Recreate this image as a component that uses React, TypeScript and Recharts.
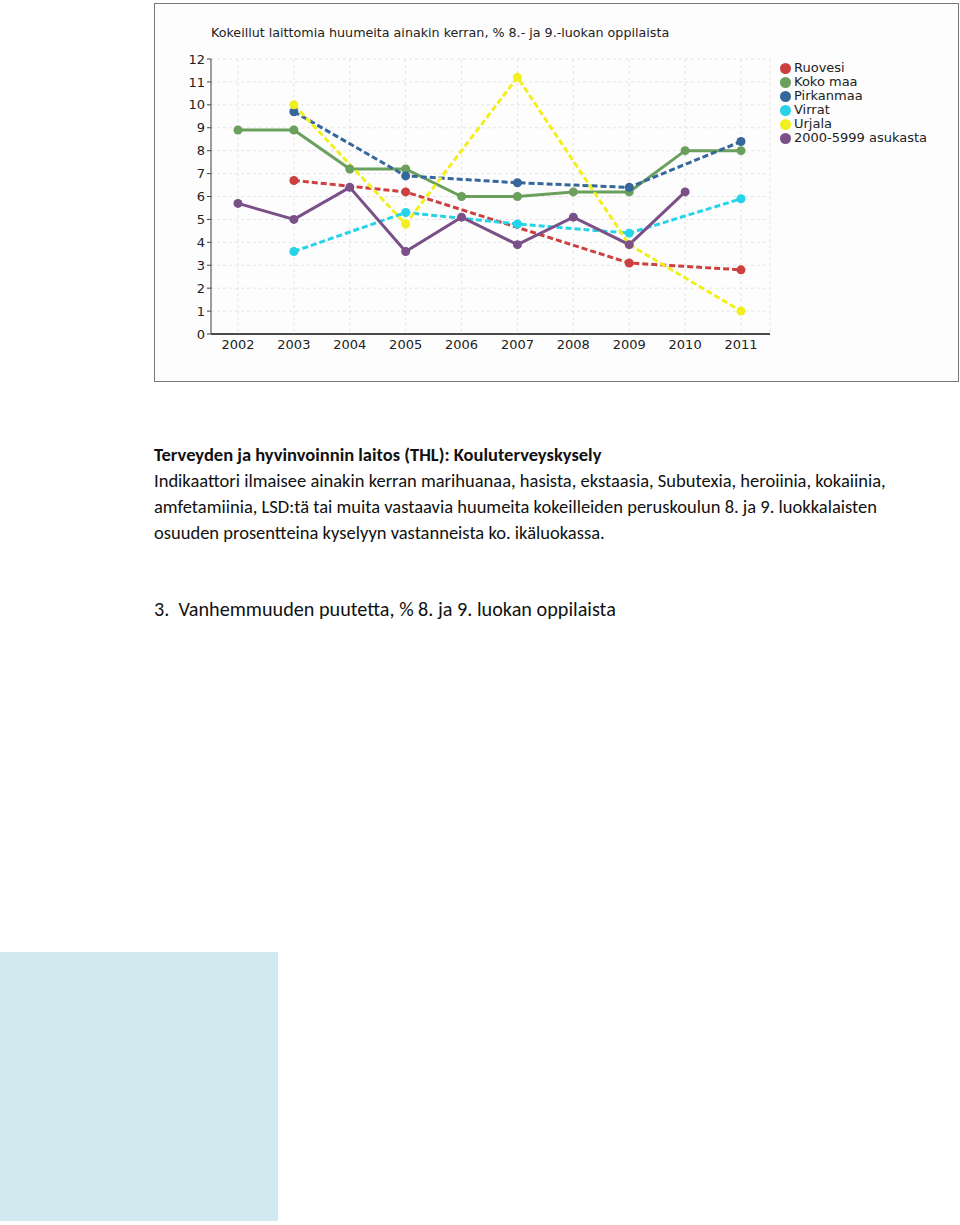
import React from 'react'
import {
  LineChart, Line, XAxis, YAxis, CartesianGrid,
} from 'recharts'

const YEARS = ['2002', '2003', '2004', '2005', '2006', '2007', '2008', '2009', '2010', '2011']
const RUOVESI = [null, 6.7, null, 6.2, null, null, null, 3.1, null, 2.8]
const KOKO_MAA = [8.9, 8.9, 7.2, 7.2, 6.0, 6.0, 6.2, 6.2, 8.0, 8.0]
const PIRKANMAA = [null, 9.7, null, 6.9, null, 6.6, null, 6.4, null, 8.4]
const VIRRAT = [null, 3.6, null, 5.3, null, 4.8, null, 4.4, null, 5.9]
const URJALA = [null, 10.0, null, 4.8, null, 11.2, null, 3.9, null, 1.0]
const ASUKASTA = [5.7, 5.0, 6.4, 3.6, 5.1, 3.9, 5.1, 3.9, 6.2, null]
const Y_TICKS = [0, 1, 2, 3, 4, 5, 6, 7, 8, 9, 10, 11, 12]

const SERIES = [
  { key: 'ruovesi', name: 'Ruovesi', values: RUOVESI, color: '#cc4040', dashed: true },
  { key: 'koko', name: 'Koko maa', values: KOKO_MAA, color: '#6a9f5c', dashed: false },
  { key: 'pirkanmaa', name: 'Pirkanmaa', values: PIRKANMAA, color: '#35679b', dashed: true },
  { key: 'virrat', name: 'Virrat', values: VIRRAT, color: '#27d3e8', dashed: true },
  { key: 'urjala', name: 'Urjala', values: URJALA, color: '#f1ef1e', dashed: true },
  { key: 'asukasta', name: '2000-5999 asukasta', values: ASUKASTA, color: '#7b4f88', dashed: false },
]

const data = YEARS.map((year, i) => {
  const row: { [k: string]: string | number | null } = { year }
  SERIES.forEach(s => { row[s.key] = s.values[i] })
  return row
})

const FONT = 'DejaVu Sans, Verdana, sans-serif'
const DOC_FONT = 'Carlito, Lato, "Open Sans", sans-serif'

function LegendList() {
  return (
    <div style={{ fontFamily: FONT, fontSize: 13, color: '#222', lineHeight: '14px' }}>
      {SERIES.map(s => (
        <div key={s.key} style={{ display: 'flex', alignItems: 'center', height: 14 }}>
          <span style={{
            display: 'inline-block', width: 11, height: 11, borderRadius: '50%',
            background: s.color, marginRight: 3,
          }} />
          {s.name}
        </div>
      ))}
    </div>
  )
}

export default function App() {
  return (
    <div style={{ position: 'absolute', left: 0, top: 0, width: 960, height: 1225, background: '#fff' }}>
      <div style={{
        position: 'absolute', left: 154, top: 3, width: 805, height: 379,
        border: '1px solid #777', boxSizing: 'border-box', background: '#fdfdfd',
      }}>
        <div style={{
          position: 'absolute', left: 56, top: 21, fontFamily: FONT, fontSize: 12.7, color: '#222',
          whiteSpace: 'nowrap',
        }}>
          Kokeillut laittomia huumeita ainakin kerran, % 8.- ja 9.-luokan oppilaista
        </div>
        <div style={{ position: 'absolute', left: 625, top: 57 }}>
          <LegendList />
        </div>
        <LineChart
          width={803}
          height={377}
          data={data}
          margin={{ top: 55, right: 188, bottom: 17, left: 16 }}
        >
          <CartesianGrid stroke="#e4e4e4" strokeDasharray="3 3" />
          <XAxis
            dataKey="year"
            padding={{ left: 27, right: 29 }}
            height={30}
            axisLine={{ stroke: '#111', strokeWidth: 1.5 }}
            tickLine={false}
            tick={{ fontSize: 13, fill: '#222', fontFamily: FONT }}
            tickMargin={0}
            interval={0}
          />
          <YAxis
            domain={[0, 12]}
            ticks={Y_TICKS}
            width={40}
            axisLine={{ stroke: '#444' }}
            tickLine={{ stroke: '#444' }}
            tickSize={4}
            tick={{ fontSize: 13, fill: '#222', fontFamily: FONT }}
            interval={0}
          />
          {SERIES.map(s => (
            <Line
              key={s.key}
              dataKey={s.key}
              name={s.name}
              stroke={s.color}
              strokeWidth={3}
              strokeDasharray={s.dashed ? '6 3' : undefined}
              dot={{ r: 4.5, fill: s.color, stroke: s.color, strokeWidth: 0 }}
              activeDot={false}
              connectNulls
              isAnimationActive={false}
            />
          ))}
        </LineChart>
      </div>

      <div style={{
        position: 'absolute', left: 154, top: 442, fontFamily: DOC_FONT, fontSize: 18.5,
        color: '#111', lineHeight: '26px', whiteSpace: 'nowrap',
      }}>
        <div style={{ fontWeight: 'bold' }}>Terveyden ja hyvinvoinnin laitos (THL): Kouluterveyskysely</div>
        <div>Indikaattori ilmaisee ainakin kerran marihuanaa, hasista, ekstaasia, Subutexia, heroiinia, kokaiinia,</div>
        <div>amfetamiinia, LSD:tä tai muita vastaavia huumeita kokeilleiden peruskoulun 8. ja 9. luokkalaisten</div>
        <div>osuuden prosentteina kyselyyn vastanneista ko. ikäluokassa.</div>
      </div>
      <div style={{
        position: 'absolute', left: 154, top: 597, fontFamily: DOC_FONT, fontSize: 20.2,
        color: '#111', whiteSpace: 'nowrap',
      }}>
        3.&nbsp; Vanhemmuuden puutetta, % 8. ja 9. luokan oppilaista
      </div>
      <div style={{ position: 'absolute', left: 0, top: 952, width: 278, height: 269, background: '#d3e9f0' }} />
    </div>
  )
}
